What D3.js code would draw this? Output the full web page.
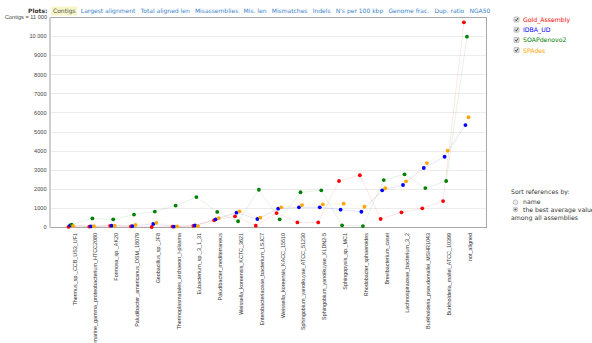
<!DOCTYPE html>
<html>
<head>
<meta charset="utf-8">
<script src="https://cdn.jsdelivr.net/npm/d3@7/dist/d3.min.js"></script>
<style>
  html, body { margin: 0; padding: 0; background: #fff; }
  svg { display: block; }
</style>
</head>
<body>
<svg id="chart" width="592" height="343"></svg>
<script>
// Reference genomes, ordered by best average value
const categories = [
  "Thermus_sp._CCB_US3_UF1",
  "marine_gamma_proteobacterium_HTCC2080",
  "Formosa_sp._AK20",
  "Paludibacter_americanus_DSM_18079",
  "Geobacillus_sp._JF8",
  "Thermoplasmatales_archaeon_I-plasma",
  "Eubacterium_sp._3_1_31",
  "Paludibacter_mediterraneus",
  "Weissella_koreensis_KCTC_3621",
  "Enterobacteriaceae_bacterium_LSJC7",
  "Weissella_koreensis_KACC_15510",
  "Sphingobium_yanoikuyae_ATCC_51230",
  "Sphingobium_yanoikuyae_XLDN2-5",
  "Sphingopyxis_sp._MC1",
  "Rhodobacter_sphaeroides",
  "Brevibacterium_casei",
  "Lachnospiraceae_bacterium_3_2",
  "Burkholderia_pseudomallei_MSHR1043",
  "Burkholderia_mallei_ATCC_10399",
  "not_aligned"
];

// Number of contigs per reference, one array per assembly
const goldAssembly = [10, 20, 60, 30, 0, 20, 60, 360, 560, 70, 730, 240, 240, 2410, 2710, 420, 770, 980, 1360, 10720];
const idbaUd       = [80, 30, 70, 50, 160, 20, 80, 400, 750, 420, 960, 1030, 1030, 910, 800, 1920, 2200, 3090, 3680, 5340];
const soapDenovo2  = [120, 450, 400, 650, 810, 1120, 1570, 790, 300, 1950, 400, 1820, 1920, 90, 50, 2460, 2760, 2040, 2410, 9970];
const spades       = [60, 40, 70, 110, 220, 30, 50, 470, 820, 490, 1030, 1150, 1190, 1220, 1060, 2030, 2390, 3350, 4000, 5750];

const assemblyNames  = ["Gold_Assembly", "IDBA_UD", "SOAPdenovo2", "SPAdes"];
const assemblyColors = ["#ff0000", "#0000ff", "#008000", "#ffa500"];

const yTicks = [0, 1000, 2000, 3000, 4000, 5000, 6000, 7000, 8000, 9000, 10000];
const yMax = 11000;

const plotNames = ["Contigs", "Largest alignment", "Total aligned len", "Misassemblies",
  "Mis. len", "Mismatches", "Indels", "N's per 100 kbp", "Genome frac.", "Dup. ratio", "NGA50"];

const sortOptions = ["name", "the best average value"];

const series = [goldAssembly, idbaUd, soapDenovo2, spades];

const svg = d3.select("#chart");
const uiFont = "'DejaVu Sans', Verdana, sans-serif";
const axisFont = "'Liberation Sans', Arial, sans-serif";

const plot = { left: 50, right: 487, top: 17, bottom: 227 };

const x = d3.scalePoint().domain(categories).range([plot.left, plot.right]).padding(1);
const y = d3.scaleLinear().domain([0, yMax]).range([plot.bottom, plot.top]);

// Small horizontal shift per assembly so overlapping dots stay visible
const seriesOffset = d3.scalePoint().domain(d3.range(series.length)).range([-2.3, 2.3]);

// ---- menu of plots ----
const menu = svg.append("g").attr("font-family", uiFont).attr("font-size", 6);
menu.append("text").attr("x", 28).attr("y", 13).attr("font-weight", "bold")
  .attr("fill", "#333").text("Plots:");
let mx = 53;
plotNames.forEach((name, i) => {
  const t = menu.append("text").attr("x", mx).attr("y", 13)
    .attr("fill", i === 0 ? "#555" : "#3a84c9").text(name);
  const w = t.node().getComputedTextLength();
  if (i === 0) {
    menu.insert("rect", "text:last-child")
      .attr("x", mx - 1.5).attr("y", 6.5).attr("width", w + 3).attr("height", 9)
      .attr("fill", "#f6f6c6");
  }
  mx += w + 5.2;
});

// ---- grid ----
svg.append("g").selectAll("line").data(yTicks.filter(d => d > 0)).join("line")
  .attr("x1", plot.left).attr("x2", plot.right)
  .attr("y1", d => Math.round(y(d)) + 0.5).attr("y2", d => Math.round(y(d)) + 0.5)
  .attr("stroke", "#ececec").attr("stroke-width", 1);

// frame
svg.append("rect")
  .attr("x", plot.left + 0.5).attr("y", plot.top + 0.5)
  .attr("width", plot.right - plot.left - 1).attr("height", plot.bottom - plot.top)
  .attr("fill", "none").attr("stroke", "#a9a9a9").attr("stroke-width", 1);
svg.append("line")
  .attr("x1", plot.left).attr("x2", plot.left)
  .attr("y1", plot.top).attr("y2", plot.bottom + 1)
  .attr("stroke", "#cfcfcf").attr("stroke-width", 2);

// ---- y axis ----
const yAxis = d3.axisLeft(y).tickValues(yTicks).tickSize(0).tickPadding(3)
  .tickFormat(d => d >= 10000 ? d3.format(",")(d).replace(/,/g, " ") : String(d));
const yg = svg.append("g").attr("transform", `translate(${plot.left - 0.5},0)`).call(yAxis);
yg.select(".domain").remove();
yg.selectAll("text").attr("font-family", axisFont).attr("font-size", 5.6).attr("fill", "#444");

svg.append("text").attr("x", plot.left - 3).attr("y", plot.top + 2)
  .attr("text-anchor", "end").attr("font-family", axisFont).attr("font-size", 5.6)
  .attr("fill", "#444").text("Contigs = " + d3.format(",")(yMax).replace(/,/g, " "));

// ---- x labels ----
const xAxis = d3.axisBottom(x).tickSize(0);
const xg = svg.append("g").attr("transform", `translate(0,${plot.bottom})`).call(xAxis);
xg.select(".domain").remove();
xg.selectAll("text")
  .attr("font-family", axisFont).attr("font-size", 5.4).attr("fill", "#333")
  .attr("text-anchor", "end")
  .attr("dy", null)
  .attr("transform", "translate(5.2,6) rotate(-90)")
  .attr("x", 0).attr("y", 0);

// ---- series lines and dots ----
const line = d3.line()
  .x((d, i) => x(categories[i]))
  .y(d => y(d));

series.forEach((vals, s) => {
  const off = seriesOffset(s);
  svg.append("path")
    .datum(vals)
    .attr("d", d3.line().x((d, i) => x(categories[i]) + off).y(d => y(d)))
    .attr("fill", "none").attr("stroke", assemblyColors[s])
    .attr("stroke-opacity", 0.13).attr("stroke-width", 0.8);
});
series.forEach((vals, s) => {
  const off = seriesOffset(s);
  svg.append("g").selectAll("circle").data(vals).join("circle")
    .attr("cx", (d, i) => x(categories[i]) + off)
    .attr("cy", d => y(d))
    .attr("r", 1.9)
    .attr("fill", assemblyColors[s]);
});

// ---- legend with checkboxes ----
const legend = svg.append("g").attr("font-family", uiFont).attr("font-size", 6.2);
assemblyNames.forEach((name, i) => {
  const cy = 20 + i * 10.2;
  const g = legend.append("g");
  g.append("rect").attr("x", 514).attr("y", cy - 3).attr("width", 5).attr("height", 5)
    .attr("rx", 0.8).attr("fill", "#e8e8e8").attr("stroke", "#9a9a9a").attr("stroke-width", 0.6);
  g.append("path").attr("d", `M515.2,${cy - 0.6} L516.3,${cy + 0.9} L518,${cy - 2}`)
    .attr("fill", "none").attr("stroke", "#333").attr("stroke-width", 0.9);
  g.append("text").attr("x", 523).attr("y", cy + 2).attr("fill", assemblyColors[i]).text(name);
});

// ---- sort selector ----
const sortG = svg.append("g").attr("font-family", uiFont).attr("font-size", 6.2).attr("fill", "#333");
sortG.append("text").attr("x", 511).attr("y", 194).text("Sort references by:");
sortOptions.forEach((opt, i) => {
  const cy = 202.3 + i * 7.2;
  sortG.append("circle").attr("cx", 515.5).attr("cy", cy).attr("r", 2.4)
    .attr("fill", "#eaeaea").attr("stroke", "#a8a8a8").attr("stroke-width", 0.6);
  if (i === 1) {
    sortG.append("circle").attr("cx", 515.5).attr("cy", cy).attr("r", 1.1).attr("fill", "#555");
  }
  sortG.append("text").attr("x", 523).attr("y", cy + 2.1).text(opt);
});
sortG.append("text").attr("x", 511).attr("y", 220).text("among all assemblies");
</script>
</body>
</html>
